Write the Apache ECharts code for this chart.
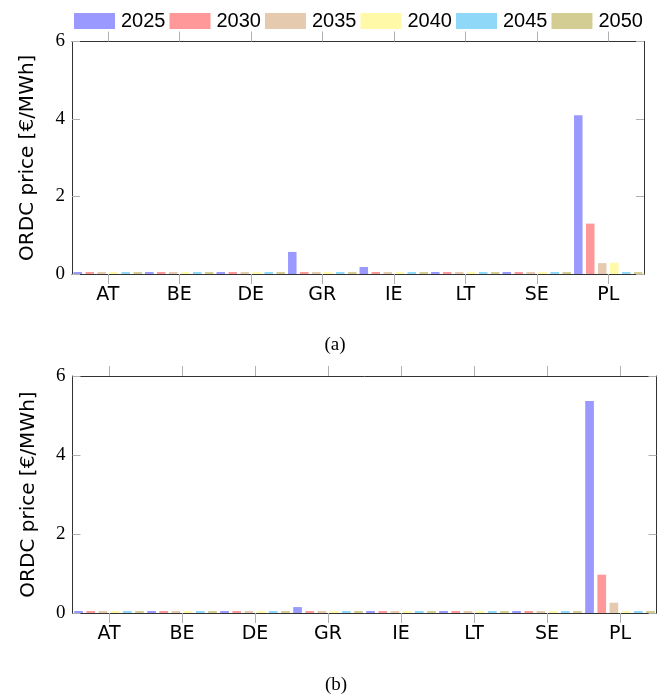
<!DOCTYPE html>
<html>
<head>
<meta charset="utf-8">
<script src="https://cdn.jsdelivr.net/npm/echarts@6/dist/echarts.min.js"></script>
<style>html,body{margin:0;padding:0;background:#fff}#c{width:664px;height:700px}</style>
</head>
<body>
<div id="c"></div>
<script>
const categories = ['AT','BE','DE','GR','IE','LT','SE','PL'];
const years = ['2025','2030','2035','2040','2045','2050'];
const colors = ['#9999ff','#ff9999','#e6cab0','#fff9a8','#8fd8f7','#d4cd93'];
const yTicks = [0, 2, 4, 6];
// Panel (a)
const a2025 = [0, 0, 0, 0.57, 0.18, 0, 0, 4.1];
const a2030 = [0, 0, 0, 0, 0, 0, 0, 1.3];
const a2035 = [0, 0, 0, 0, 0, 0, 0, 0.28];
const a2040 = [0, 0, 0, 0, 0, 0, 0, 0.29];
const a2045 = [0, 0, 0, 0, 0, 0, 0, 0.05];
const a2050 = [0, 0, 0, 0, 0, 0, 0, 0];
// Panel (b)
const b2025 = [0, 0, 0, 0.15, 0.03, 0, 0, 5.37];
const b2030 = [0, 0, 0, 0, 0, 0, 0, 0.97];
const b2035 = [0, 0, 0, 0, 0, 0, 0, 0.26];
const b2040 = [0, 0, 0, 0, 0, 0, 0, 0.05];
const b2045 = [0, 0, 0, 0, 0, 0, 0, 0.03];
const b2050 = [0, 0, 0, 0, 0, 0, 0, 0];

const panelA = [a2025, a2030, a2035, a2040, a2045, a2050];
const panelB = [b2025, b2030, b2035, b2040, b2045, b2050];

const sans = '"DejaVu Sans", "Liberation Sans", sans-serif';
const legendFont = '"Liberation Sans", Arial, sans-serif';
const serif = '"Liberation Serif", "Times New Roman", serif';
const lineColor = '#333';
const tickColor = '#b0b0b0';

function xAx(gi, bottom) {
  return {
    type: 'category', gridIndex: gi, data: categories, position: bottom ? 'bottom' : 'top',
    boundaryGap: true,
    axisLine: {show: true, onZero: false, lineStyle: {color: lineColor, width: 1}},
    axisTick: {show: true, alignWithLabel: true, inside: false, length: 10, lineStyle: {color: tickColor}},
    axisLabel: {show: bottom, color: '#000', fontFamily: sans, fontSize: 19, margin: 12},
    splitLine: {show: false}
  };
}
function yAx(gi, left) {
  return {
    type: 'value', gridIndex: gi, min: yTicks[0], max: yTicks[yTicks.length-1], interval: 2,
    position: left ? 'left' : 'right',
    name: left ? 'ORDC price [€/MWh]' : '', nameLocation: 'middle', nameGap: 34,
    nameTextStyle: {fontFamily: sans, fontSize: 20, color: '#000'},
    axisLine: {show: true, lineStyle: {color: lineColor, width: 1}},
    axisTick: {show: true, inside: true, length: 8, lineStyle: {color: tickColor}},
    axisLabel: {show: left, color: '#000', fontFamily: serif, fontSize: 19, margin: 7},
    splitLine: {show: false}
  };
}

const series = [];
panelA.forEach((d, i) => series.push({
  name: years[i], type: 'bar', xAxisIndex: 0, yAxisIndex: 0, data: d,
  barWidth: 8.5, barGap: '41%', barMinHeight: 2,
  itemStyle: {color: colors[i]}
}));
panelB.forEach((d, i) => series.push({
  name: years[i], type: 'bar', xAxisIndex: 2, yAxisIndex: 2, data: d,
  barWidth: 8.7, barGap: '40%', barMinHeight: 2,
  itemStyle: {color: colors[i]}
}));

const chart = echarts.init(document.getElementById('c'), null, {renderer: 'canvas'});
chart.setOption({
  animation: false,
  color: colors,
  legend: {
    data: years, top: 6, left: 69, itemWidth: 41, itemHeight: 16, itemGap: 4,
    icon: 'rect',
    textStyle: {fontFamily: legendFont, fontSize: 20, color: '#000', padding: [0, 0, 0, 1]}
  },
  title: [
    {text: '(a)', left: 330, top: 331, textAlign: 'center', textStyle: {fontFamily: serif, fontSize: 19, fontWeight: 'normal', color: '#000'}},
    {text: '(b)', left: 331, top: 671, textAlign: 'center', textStyle: {fontFamily: serif, fontSize: 19, fontWeight: 'normal', color: '#000'}}
  ],
  grid: [
    {left: 72, right: 20, top: 41.5, height: 232.5},
    {left: 72.5, right: 7.5, top: 376, height: 237}
  ],
  xAxis: [xAx(0, true), xAx(0, false), xAx(1, true), xAx(1, false)],
  yAxis: [yAx(0, true), yAx(0, false), yAx(1, true), yAx(1, false)],
  series: series
});
</script>
</body>
</html>
